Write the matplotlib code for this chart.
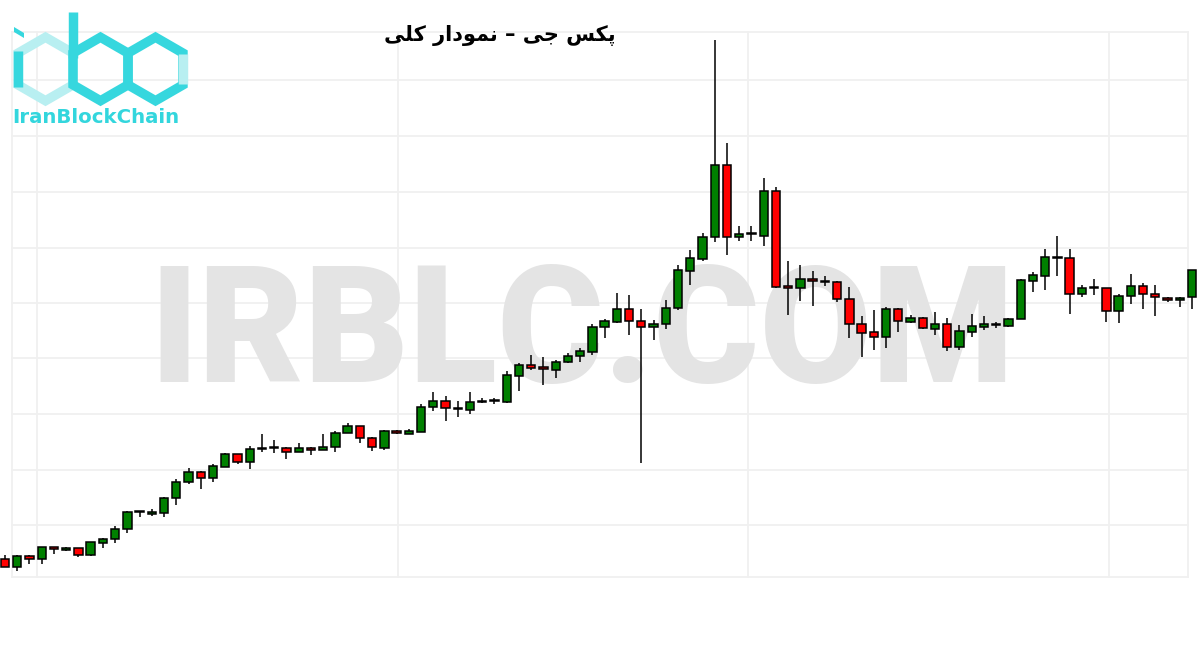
import matplotlib
matplotlib.use("Agg")
import matplotlib.pyplot as plt
from matplotlib.patches import Polygon
import numpy as np

# ---------------- data (arbitrary price units) ----------------
opens  = [91, 83, 94, 91, 103, 100, 102, 95, 107, 111, 121, 138, 136, 137, 152, 168, 178, 172, 183, 196,
          188, 201, 202, 202, 198, 202, 200, 203, 217, 224, 212, 202, 219, 216, 218, 243, 249, 241, 240, 248,
          249, 248, 274, 285, 283, 280, 288, 294, 298, 323, 328, 341, 329, 323, 326, 342, 379, 391, 413, 485,
          413, 416, 414, 459, 364, 362, 371, 369, 368, 351, 326, 318, 313, 341, 328, 332, 321, 326, 303, 318,
          323, 325, 324, 331, 369, 374, 392, 392, 356, 362, 362, 339, 354, 364, 356, 352, 350, 353]
highs  = [95, 95, 95, 103, 103, 103, 102, 108, 112, 124, 139, 139, 141, 153, 171, 182, 179, 186, 197, 196,
          204, 216, 210, 203, 207, 203, 216, 219, 227, 224, 213, 220, 220, 221, 246, 258, 254, 249, 258, 252,
          252, 279, 287, 295, 293, 290, 297, 302, 326, 331, 357, 355, 341, 330, 350, 385, 400, 417, 610, 507,
          424, 424, 472, 463, 389, 385, 379, 374, 369, 363, 334, 340, 343, 342, 335, 333, 338, 332, 325, 336,
          334, 328, 332, 371, 378, 401, 414, 401, 365, 371, 362, 356, 376, 367, 365, 353, 353, 380]
lows   = [83, 79, 86, 86, 96, 99, 93, 94, 102, 107, 117, 133, 134, 133, 145, 166, 161, 168, 183, 186,
          181, 198, 197, 191, 198, 195, 200, 198, 217, 207, 199, 200, 216, 216, 218, 239, 229, 233, 236, 247,
          246, 247, 259, 280, 265, 272, 287, 288, 295, 312, 327, 315, 187, 310, 321, 340, 365, 389, 408, 395,
          409, 409, 404, 362, 335, 349, 344, 364, 348, 312, 293, 300, 302, 318, 327, 321, 315, 299, 300, 313,
          320, 322, 323, 331, 358, 360, 374, 336, 353, 355, 328, 327, 346, 341, 334, 348, 343, 341]
closes = [83, 94, 91, 103, 101, 102, 95, 108, 111, 121, 138, 138, 138, 152, 168, 178, 172, 184, 196, 188,
          201, 202, 202, 198, 202, 200, 203, 217, 224, 212, 203, 219, 217, 219, 243, 249, 242, 242, 248, 249,
          249, 275, 285, 282, 281, 288, 294, 299, 323, 329, 341, 329, 323, 326, 342, 380, 392, 413, 485, 413,
          416, 416, 459, 363, 362, 371, 369, 368, 351, 326, 317, 313, 341, 329, 332, 322, 326, 303, 319, 324,
          326, 325, 331, 370, 375, 393, 392, 356, 362, 362, 339, 354, 364, 356, 353, 350, 352, 380]

title_text = "ﯽﻠﮐ ﺭﺍﺩﻮﻤﻧ – ﯽﺟ ﺲﮑﭘ"   # "پکس جی – نمودار کلی" in visual (shaped) order
watermark_text = "IRBLC.COM"
logo_text = "IranBlockChain"

UP_COLOR = "#008000"
DOWN_COLOR = "#ff0000"

# ---------------- figure ----------------
W, H = 1200, 650
fig = plt.figure(figsize=(W / 100, H / 100), dpi=100)
fig.patch.set_facecolor("white")

# background/overlay axes in pixel coordinates (y downwards)
bg = fig.add_axes([0, 0, 1, 1], zorder=0)
bg.set_xlim(0, W)
bg.set_ylim(H, 0)
bg.axis("off")

# faint grid / frame
grid_col = "#f0f0f0"
for yy in [32, 80, 136, 192, 248, 303, 358, 414, 470, 525, 577]:
    bg.plot([12, 1188], [yy, yy], color=grid_col, lw=1.3, zorder=0)
for xx in [12, 37, 398, 748, 1109, 1188]:
    bg.plot([xx, xx], [32, 577], color=grid_col, lw=1.3, zorder=0)

# watermark
bg.text(582, 382, watermark_text, fontsize=117, fontweight=900, family="Roboto",
        color="#e4e4e4", ha="center", va="baseline", zorder=1)

# ---------------- candlesticks ----------------
ax = fig.add_axes([0, 0, 1, 1], zorder=2)
ax.patch.set_alpha(0)
n = len(opens)
step = (1192 - 5) / (n - 1)
ax.set_xlim(-5 / step, (W - 5) / step)
ax.set_ylim(0, 650)
ax.axis("off")

x = np.arange(n)
o = np.array(opens, float)
h = np.array(highs, float)
l = np.array(lows, float)
c = np.array(closes, float)
up = c >= o
colors = np.where(up, UP_COLOR, DOWN_COLOR)

ax.vlines(x, l, h, color="black", lw=1.1, zorder=3)
bottoms = np.minimum(o, c)
heights = np.maximum(np.abs(c - o), 0.8)
ax.bar(x, heights, bottom=bottoms, width=0.68, color=colors, edgecolor="black",
       linewidth=1.1, zorder=4)

# ---------------- logo ----------------
lg = fig.add_axes([0, 0, 1, 1], zorder=5)
lg.patch.set_alpha(0)
lg.set_xlim(0, W)
lg.set_ylim(H, 0)
lg.axis("off")

dark = "#36d7de"
pale = "#b8eff1"
r = 31.75
dx = r * np.cos(np.pi / 6)


def hexv(cx, cy):
    return [(cx, cy - r), (cx + dx, cy - r / 2), (cx + dx, cy + r / 2),
            (cx, cy + r), (cx - dx, cy + r / 2), (cx - dx, cy - r / 2)]


lw = 6.8
cy = 69
h1, h2, h3 = hexv(45.5, cy), hexv(100.5, cy), hexv(155.5, cy)
lg.add_patch(Polygon(h1, closed=True, fill=False, ec=pale, lw=lw, joinstyle="miter"))
lg.plot([h1[4][0], h1[5][0]], [h1[4][1] + 2, h1[5][1] - 2], color=dark, lw=lw, solid_capstyle="butt")
lg.add_patch(Polygon(h2, closed=True, fill=False, ec=dark, lw=lw, joinstyle="miter"))
lg.add_patch(Polygon(h3, closed=True, fill=False, ec=dark, lw=lw, joinstyle="miter"))
lg.plot([h3[1][0], h3[2][0]], [h3[1][1] + 1, h3[2][1] - 1], color=pale, lw=lw, solid_capstyle="butt")
# stem of "b"
lg.plot([h2[5][0], h2[5][0]], [12, h2[5][1] + 5], color=dark, lw=lw, solid_capstyle="butt")
# dot of "i"
lg.add_patch(Polygon([(14, 27), (24, 33), (24, 38), (14, 32)], closed=True, fc=dark, ec="none"))

lg.text(12, 123, logo_text, fontsize=14.2, fontweight="bold", family="DejaVu Sans",
        color="#33d6dd", ha="left", va="baseline")

# ---------------- title ----------------
lg.text(500, 35, title_text, fontsize=15, fontweight="bold", family=["DejaVu Sans"],
        color="black", ha="center", va="center")

fig.savefig("out.png", dpi=100, facecolor="white")
